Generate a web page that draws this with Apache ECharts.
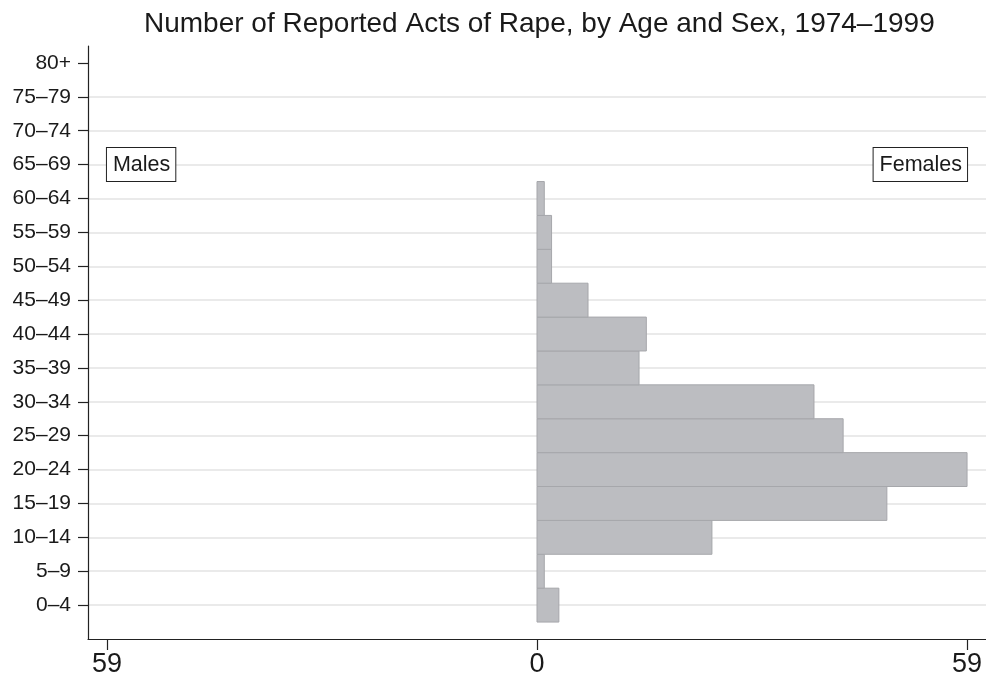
<!DOCTYPE html>
<html>
<head>
<meta charset="utf-8">
<script src="https://cdn.jsdelivr.net/npm/echarts@6/dist/echarts.min.js"></script>
<style>
html,body{margin:0;padding:0;background:#fff;}
#chart{width:986px;height:682px;}
</style>
</head>
<body>
<div id="chart"></div>
<script>
const titleText = 'Number of Reported Acts of Rape, by Age and Sex, 1974\u20131999';
const ageGroups = ['0\u20134','5\u20139','10\u201314','15\u201319','20\u201324','25\u201329','30\u201334','35\u201339','40\u201344','45\u201349','50\u201354','55\u201359','60\u201364','65\u201369','70\u201374','75\u201379','80+'];
const females = [3, 1, 24, 48, 59, 42, 38, 14, 15, 7, 2, 2, 1, 0, 0, 0, 0];
const males   = [0, 0, 0, 0, 0, 0, 0, 0, 0, 0, 0, 0, 0, 0, 0, 0, 0];
const xTicks = [-59, 0, 59];
const sexLabels = ['Males', 'Females'];
const sexLabelRow = 13;

const FONT = '"Liberation Sans", Arial, Helvetica, sans-serif';
const chart = echarts.init(document.getElementById('chart'), null, {renderer: 'canvas'});

const idx = ageGroups.map((_, i) => i);
const femData = females.map((v, i) => [i, v]);
const maleData = males.map((v, i) => [i, -v]);

function barRender(params, api) {
  const i = api.value(0), v = api.value(1);
  if (!v) return null;
  const a = api.coord([0, i - 0.5]);
  const b = api.coord([v, i + 0.5]);
  return {
    type: 'rect',
    shape: {x: Math.min(a[0], b[0]), y: Math.min(a[1], b[1]), width: Math.abs(b[0] - a[0]), height: Math.abs(a[1] - b[1])},
    style: {fill: '#bcbdc1', stroke: '#a6a7ab', lineWidth: 1}
  };
}

const option = {
  backgroundColor: '#fff',
  animation: false,
  title: {
    text: titleText,
    left: 139, top: 5,
    textStyle: {fontFamily: FONT, fontSize: 28, fontWeight: 'normal', color: '#1a1a1a'}
  },
  grid: {left: 88, right: 0, top: 46, bottom: 43, containLabel: false},
  xAxis: {
    type: 'value', min: -61.6, max: 61.6,
    axisLine: {show: true, onZero: false, lineStyle: {color: '#222', width: 1.2}},
    axisTick: {show: true, length: 11, customValues: xTicks, lineStyle: {color: '#222', width: 1.2}},
    axisLabel: {show: true, customValues: xTicks, formatter: v => String(Math.abs(Math.round(v))), fontFamily: FONT, fontSize: 27, color: '#1a1a1a', margin: 12},
    splitLine: {show: false}
  },
  yAxis: [
    {
      type: 'value', min: -1, max: 16.5,
      axisLine: {show: true, onZero: false, lineStyle: {color: '#222', width: 1.2}},
      axisTick: {show: true, length: 10, customValues: idx, lineStyle: {color: '#222', width: 1.2}},
      axisLabel: {show: true, customValues: idx, formatter: v => ageGroups[Math.round(v)] || '', fontFamily: FONT, fontSize: 21, color: '#1a1a1a', margin: 17},
      splitLine: {show: false}
    },
    {
      type: 'value', min: -1, max: 16.5, position: 'left',
      axisLine: {show: false},
      axisTick: {show: false, customValues: idx.slice(0, 16)},
      axisLabel: {show: false, customValues: idx.slice(0, 16)},
      splitLine: {show: true, lineStyle: {color: '#e3e3e3', width: 1.5}}
    }
  ],
  series: [
    {type: 'custom', name: 'Females', renderItem: barRender, data: femData, encode: {x: 1, y: 0}, xAxisIndex: 0, yAxisIndex: 0, z: 3},
    {type: 'custom', name: 'Males', renderItem: barRender, data: maleData, encode: {x: 1, y: 0}, xAxisIndex: 0, yAxisIndex: 0, z: 3},
    {
      type: 'scatter', symbolSize: 0, xAxisIndex: 0, yAxisIndex: 0, z: 5,
      itemStyle: {opacity: 1},
      data: [
        {value: [xTicks[0], sexLabelRow], label: {formatter: sexLabels[0], align: 'left'}},
        {value: [xTicks[2], sexLabelRow], label: {formatter: sexLabels[1], align: 'right'}}
      ],
      label: {
        show: true, position: 'inside', verticalAlign: 'middle',
        fontFamily: FONT, fontSize: 21.5, color: '#1a1a1a', lineHeight: 25,
        backgroundColor: '#fff', borderColor: '#222', borderWidth: 1, padding: [5, 5, 3, 6]
      }
    }
  ]
};
chart.setOption(option);
</script>
</body>
</html>
